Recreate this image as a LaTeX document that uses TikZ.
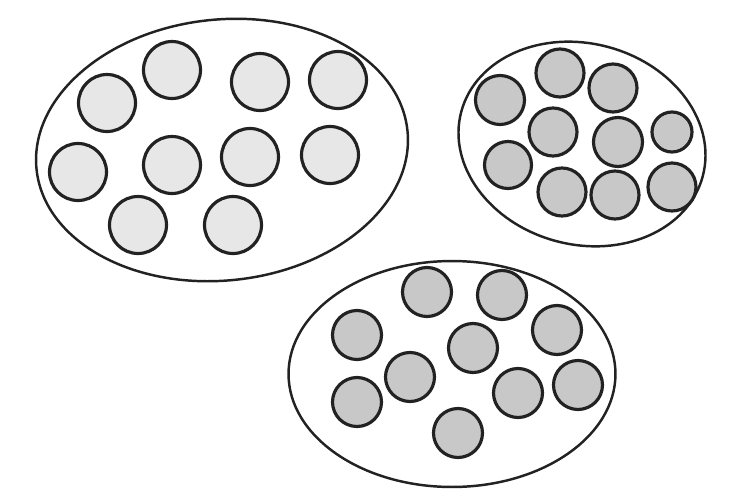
\documentclass[tikz,border=0pt]{standalone}
\usepackage{tikz}
\usetikzlibrary{shapes.geometric}
\definecolor{CellLight}{HTML}{E7E7E7}
\definecolor{CellDark}{HTML}{C8C8C8}
\definecolor{EdgeGray}{HTML}{222222}

\begin{document}
\begin{tikzpicture}[
    x=0.02cm, y=-0.02cm,
    group/.style={
      ellipse,
      draw=EdgeGray,
      line width=1.4pt,
      inner sep=0pt
    },
    cell/.style={
      circle,
      draw=EdgeGray,
      fill=#1,
      line width=1.8pt,
      inner sep=0pt
    }
  ]
  \useasboundingbox (0,0) rectangle (735,501);

  % Groups
  \node[group,minimum width=7.46cm,minimum height=5.22cm,rotate=6]  (left)   at (222,150) {};
  \node[group,minimum width=5.0cm,minimum height=4.02cm,rotate=-15] (right)  at (582,144) {};
  \node[group,minimum width=6.54cm,minimum height=4.52cm]           (bottom) at (452,374) {};

  % Cells of the left group
  \foreach \n/\cx/\cy in {1/107/103, 2/172/70, 3/260/82, 4/338/80, 5/78/172,
                          6/172/165, 7/250/157, 8/330/155, 9/138/225, 10/233/225}
    \node[cell=CellLight,minimum size=1.14cm] (l\n) at (\cx,\cy) {};

  % Cells of the right group
  \foreach \n/\cx/\cy/\d in {1/500/100/0.98, 2/560/73/0.96, 3/613/88/0.96, 4/553/132/0.96,
                             5/618/142/0.98, 6/672/132/0.8, 7/508/165/0.94,
                             8/562/192/0.96, 9/615/195/0.96, 10/672/187/0.96}
    \node[cell=CellDark,minimum size=\d cm] (r\n) at (\cx,\cy) {};

  % Cells of the bottom group
  \foreach \n/\cx/\cy in {1/427/292, 2/502/295, 3/357/335, 4/473/348, 5/557/330,
                          6/410/377, 7/357/402, 8/518/393, 9/578/385, 10/458/433}
    \node[cell=CellDark,minimum size=0.98cm] (b\n) at (\cx,\cy) {};

\end{tikzpicture}
\end{document}
